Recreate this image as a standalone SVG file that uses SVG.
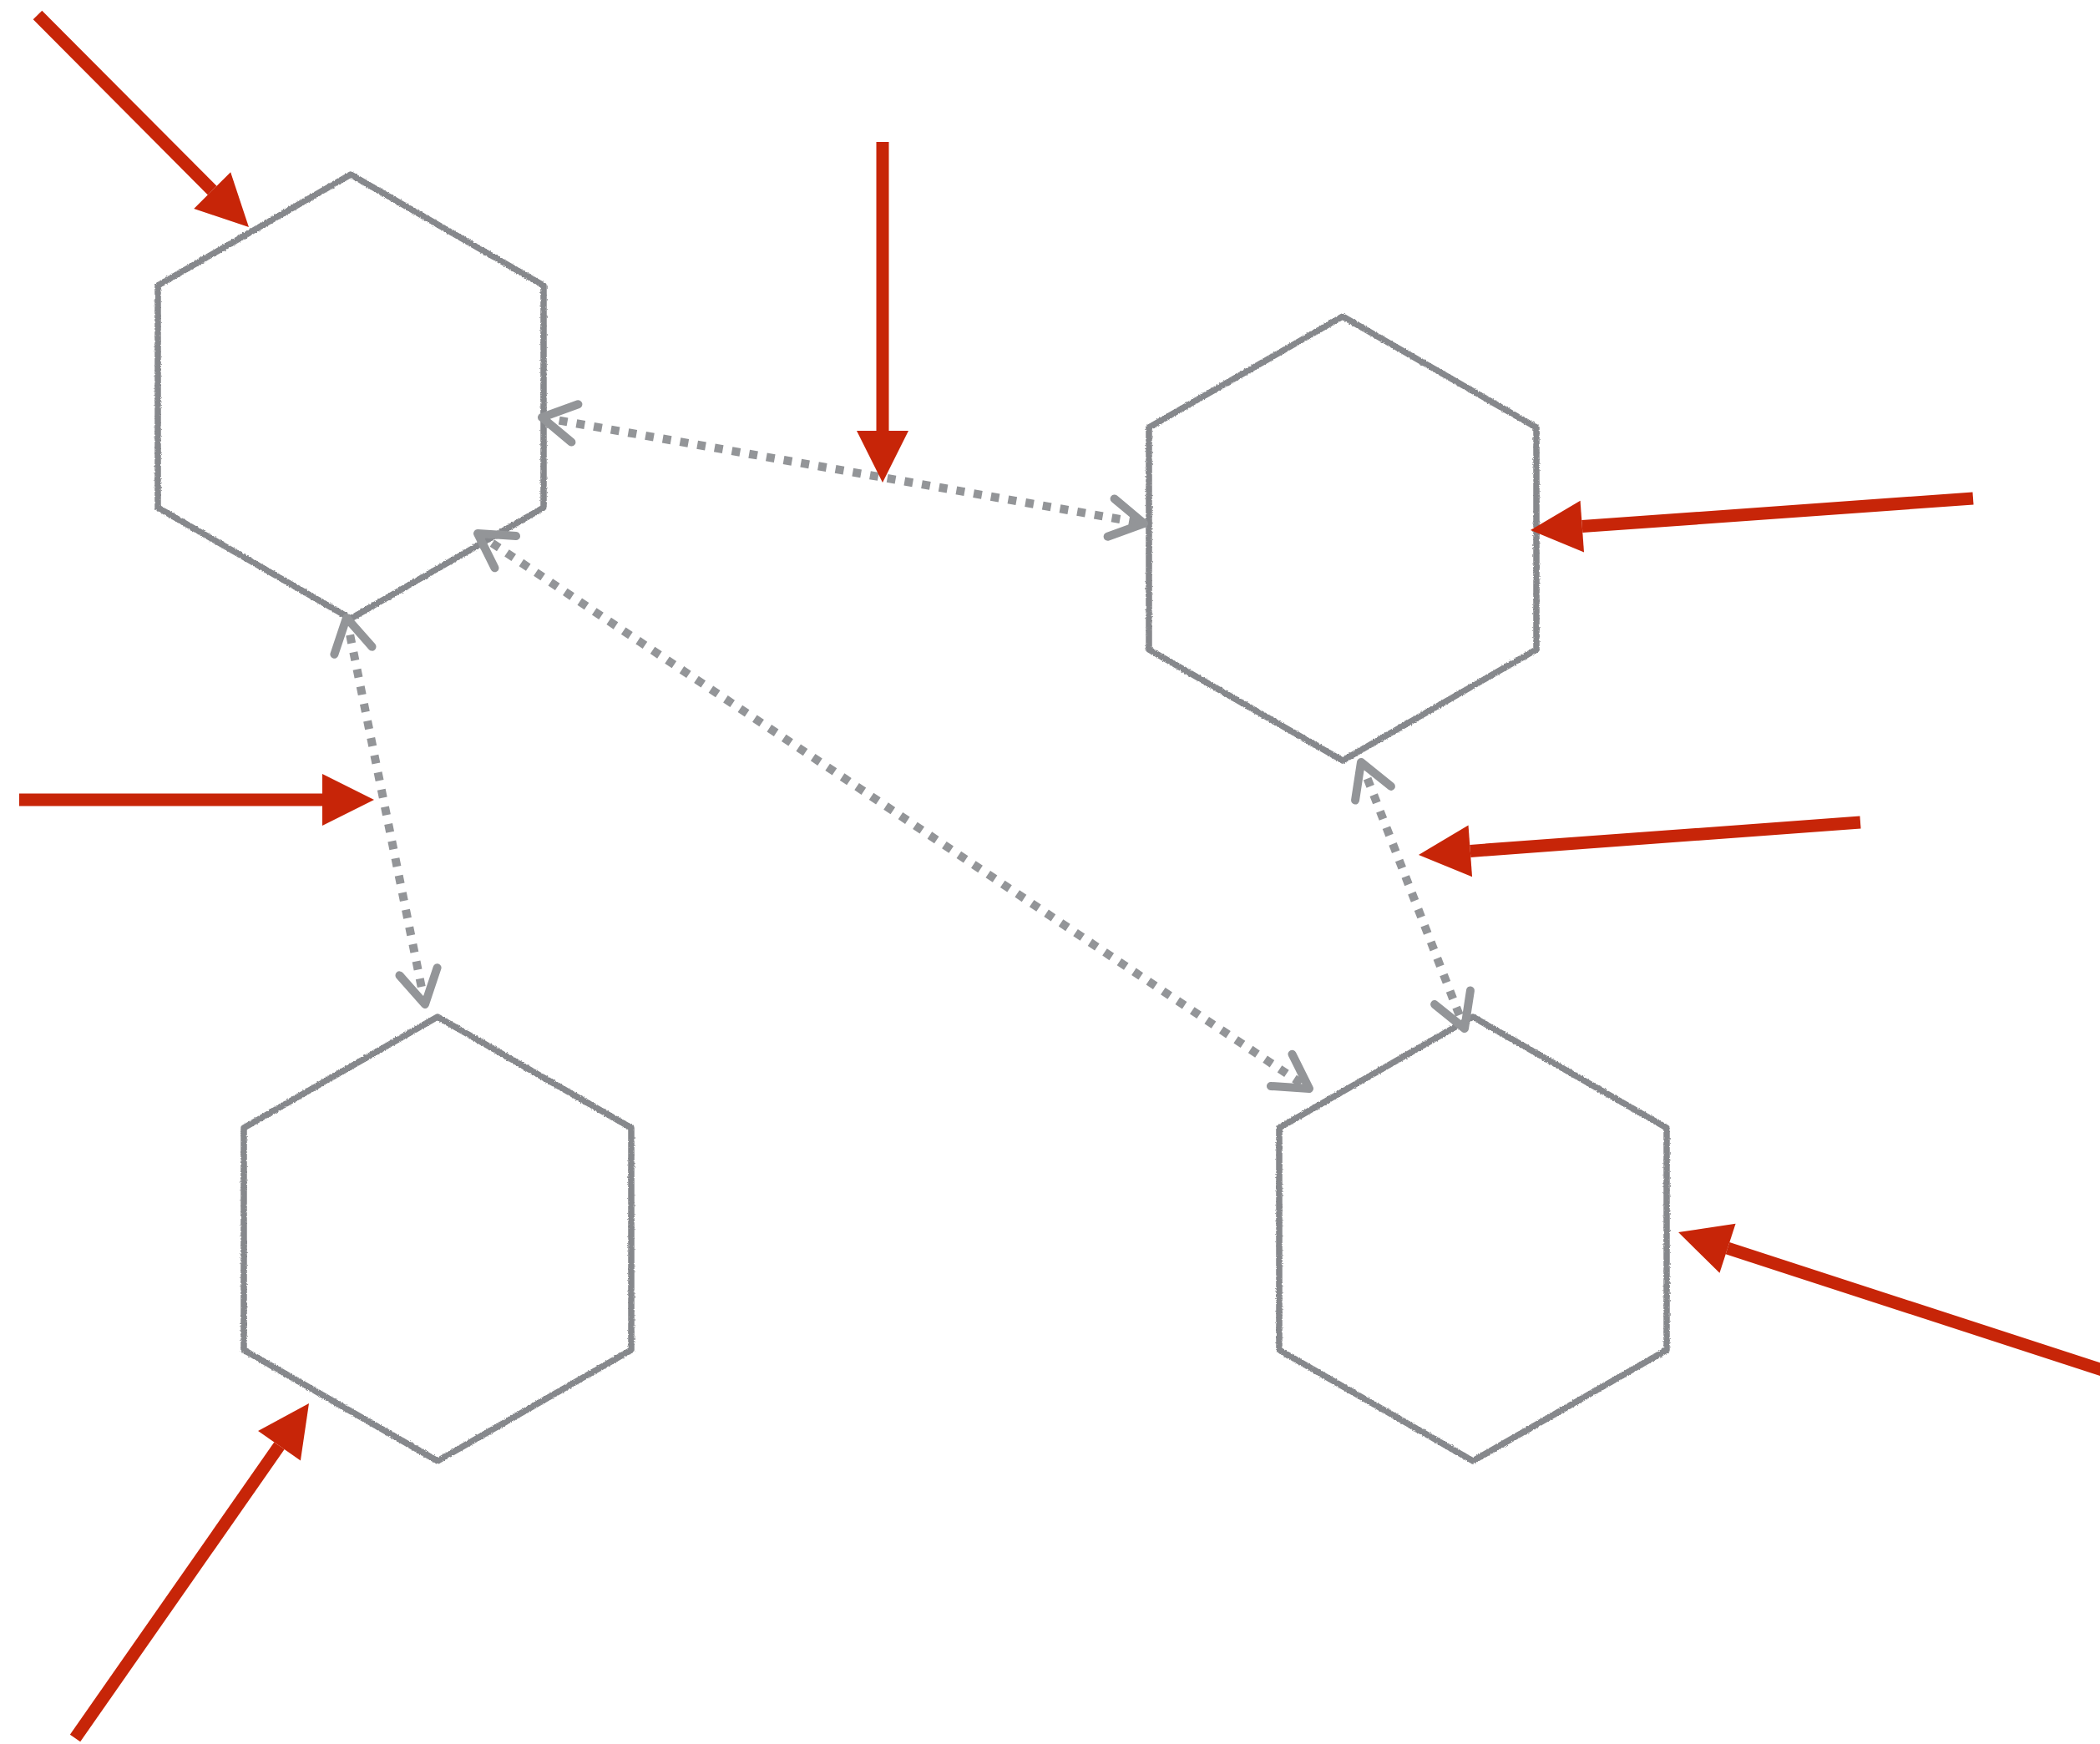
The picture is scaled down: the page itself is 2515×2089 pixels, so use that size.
<svg xmlns="http://www.w3.org/2000/svg" width="2515" height="2089" viewBox="0 0 2515 2089">
  <style>
    .hex { fill: #ffffff; stroke: #86888c; stroke-width: 7.5; stroke-linejoin: round; filter: url(#rough); }
    .red { fill: none; stroke: #c72508; stroke-width: 15; stroke-linecap: butt; marker-end: url(#redHead); }
    .dot { fill: none; stroke: #939598; stroke-width: 10; stroke-dasharray: 10 11; stroke-linecap: butt; marker-start: url(#chev); marker-end: url(#chev); }
  </style>
  <defs>
    <filter id="rough" x="-5%" y="-5%" width="110%" height="110%">
      <feTurbulence type="fractalNoise" baseFrequency="0.6" numOctaves="2" seed="3" result="n"/>
      <feDisplacementMap in="SourceGraphic" in2="n" scale="3" xChannelSelector="R" yChannelSelector="G"/>
    </filter>
    <marker id="redHead" markerUnits="userSpaceOnUse" viewBox="0 -32 63 64" refX="0" refY="0" markerWidth="63" markerHeight="64" orient="auto" overflow="visible">
      <path d="M0,-31 L62,0 L0,31 Z" fill="#c72508"/>
    </marker>
    <marker id="chev" markerUnits="userSpaceOnUse" viewBox="-60 -35 70 70" refX="0" refY="0" markerWidth="70" markerHeight="70" orient="auto-start-reverse" overflow="visible">
      <path d="M-40,-23 L0,0 L-40,23" fill="none" stroke="#939598" stroke-width="10" stroke-linecap="round" stroke-linejoin="round" stroke-dasharray="none"/>
    </marker>
  </defs>

  <g id="node-1"><polygon class="hex" points="420,209 651,342 651,608 420,741 189,608 189,342"/></g>
  <g id="node-2"><polygon class="hex" points="1608,379 1840,512 1840,778 1608,911 1376,778 1376,512"/></g>
  <g id="node-3"><polygon class="hex" points="524,1218 756,1351 756,1617 524,1750 292,1617 292,1351"/></g>
  <g id="node-4"><polygon class="hex" points="1764,1218 1996,1351 1996,1617 1764,1750 1532,1617 1532,1351"/></g>

  <g id="connectors">
    <line class="dot" x1="649" y1="500" x2="1370" y2="627"/>
    <line class="dot" x1="415" y1="740" x2="509" y2="1203"/>
    <line class="dot" x1="572" y1="639" x2="1568" y2="1304"/>
    <line class="dot" x1="1630" y1="913" x2="1754" y2="1232"/>

    <line class="red" x1="45" y1="18" x2="254.2" y2="228.1"/>
    <line class="red" x1="1057" y1="170" x2="1057" y2="516"/>
    <line class="red" x1="2363" y1="597" x2="1894.8" y2="630.6"/>
    <line class="red" x1="2228" y1="985" x2="1760.8" y2="1019.4"/>
    <line class="red" x1="23" y1="958" x2="386" y2="958"/>
    <line class="red" x1="90" y1="2082" x2="334.5" y2="1731.8"/>
    <line class="red" x1="2524" y1="1643" x2="2069" y2="1495.2"/>
  </g>
</svg>
